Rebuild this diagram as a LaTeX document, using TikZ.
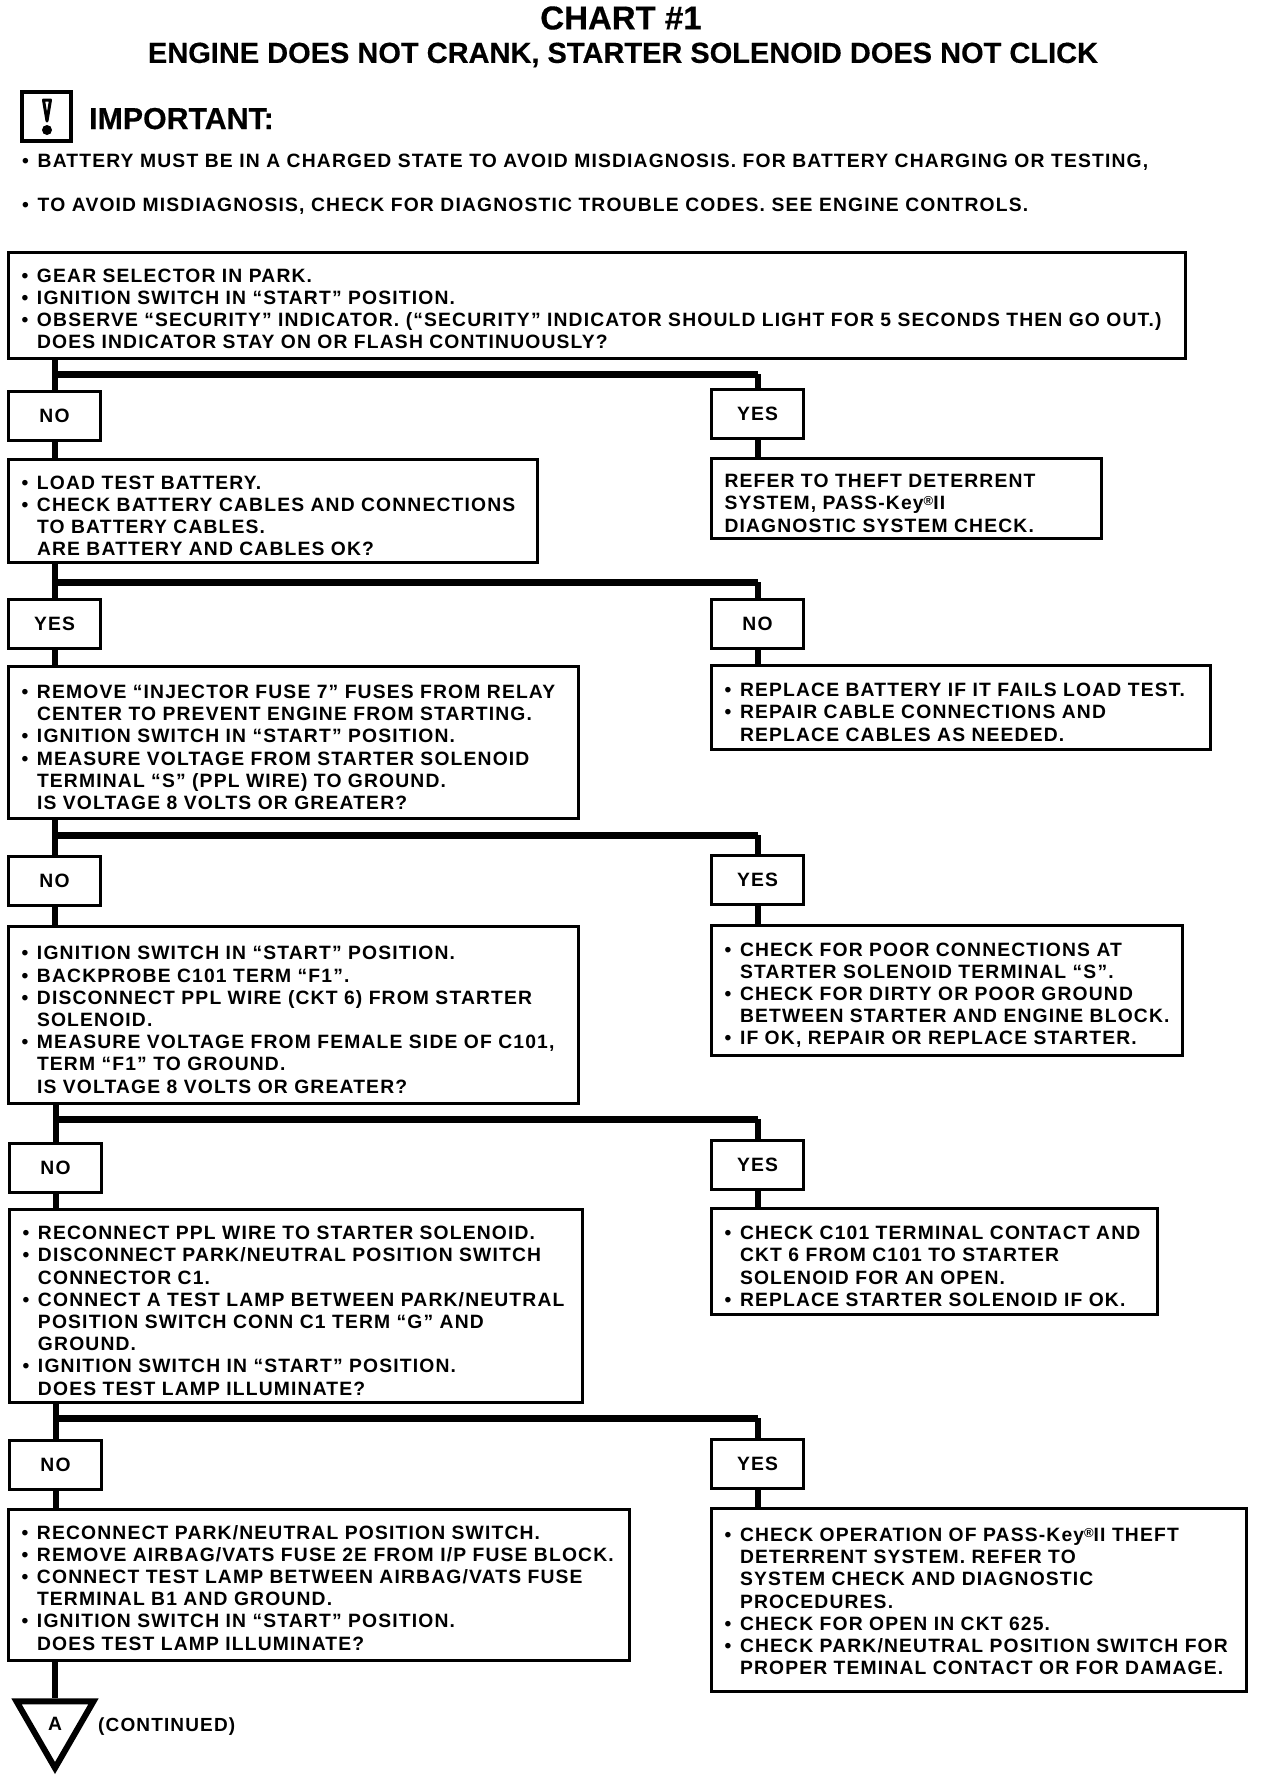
\documentclass[tikz,border=0pt]{standalone}
\usepackage{fontspec}
\setmainfont[LetterSpace=6]{Liberation Sans}
\newfontfamily\headfont[BoldFeatures={FakeBold=0.4}]{Liberation Sans}
\usetikzlibrary{positioning, shapes.geometric}
\newcommand{\bl}{\makebox[15.5pt][l]{•}}
\newcommand{\ind}{\hspace*{15.5pt}}
\newcommand{\regmark}{\raisebox{4pt}{\fontsize{13}{13}\selectfont\textregistered}}

\begin{document}
\begin{tikzpicture}[
    x=1pt, y=-1pt,
    every node/.style={inner sep=0pt, font=\fontsize{19.3}{22.2}\selectfont\bfseries},
    stepbox/.style={rectangle, draw, line width=3pt, anchor=north west, align=left,
                    inner xsep=13pt, inner ysep=0pt,
                    execute at begin node={\rule{0pt}{23pt}}},
    answer/.style={rectangle, draw, line width=3pt, anchor=north west, align=center,
                   minimum width=92pt, minimum height=49pt},
    stem/.style={line width=6pt},
    bar/.style={line width=7pt},
    headtxt/.style={font=\headfont\bfseries\fontsize{29}{30}\selectfont}
  ]
    \useasboundingbox (0,0) rectangle (1264,1778);

    % heading
    \node[headtxt, font=\headfont\bfseries\fontsize{33}{33}\selectfont] (chart) at (621,18) {CHART \#1};
    \node[headtxt] (subtitle) at (623,55) {ENGINE DOES NOT CRANK, STARTER SOLENOID DOES NOT CLICK};
    \node[draw, line width=4pt, minimum width=49pt, minimum height=49pt] (bang) at (46.5,116.5) {};
    \draw[line width=3pt, line join=round] (43.5,100) -- (50.5,100) -- (47,121) -- cycle;
    \fill (47,130) circle (5);
    \node[headtxt, font=\headfont\bfseries\fontsize{30.3}{31}\selectfont, anchor=base west] (important) at (89,129) {IMPORTANT:};
    \node[anchor=base west] (noteA) at (22,167)
      {\bl BATTERY MUST BE IN A CHARGED STATE TO AVOID MISDIAGNOSIS. FOR BATTERY CHARGING OR TESTING,};
    \node[anchor=base west] (noteB) at (22,211)
      {\bl TO AVOID MISDIAGNOSIS, CHECK FOR DIAGNOSTIC TROUBLE CODES. SEE ENGINE CONTROLS.};

    % left column
    \node[stepbox, execute at begin node={}, execute at end node={\rule[-3pt]{0pt}{3pt}}, text width=1151pt, minimum height=106pt] (start) at (7,251)
      {\bl GEAR SELECTOR IN PARK.\\
       \bl IGNITION SWITCH IN “START” POSITION.\\
       \mbox{\bl OBSERVE “SECURITY” INDICATOR. (“SECURITY” INDICATOR SHOULD LIGHT FOR 5 SECONDS THEN GO OUT.)}\\
       \ind DOES INDICATOR STAY ON OR FLASH CONTINUOUSLY?};
    \node[answer] (noA) at (7,390) {NO};
    \node[stepbox, text width=503pt, minimum height=103pt] (loadtest) at (7,458)
      {\bl LOAD TEST BATTERY.\\
       \bl CHECK BATTERY CABLES AND CONNECTIONS\\
       \ind TO BATTERY CABLES.\\
       \ind ARE BATTERY AND CABLES OK?};
    \node[answer] (yesB) at (7,598) {YES};
    \node[stepbox, text width=544pt, minimum height=152pt] (fuse) at (7,665)
      {\bl REMOVE “INJECTOR FUSE 7” FUSES FROM RELAY\\
       \ind CENTER TO PREVENT ENGINE FROM STARTING.\\
       \bl IGNITION SWITCH IN “START” POSITION.\\
       \bl MEASURE VOLTAGE FROM STARTER SOLENOID\\
       \ind TERMINAL “S” (PPL WIRE) TO GROUND.\\
       \ind IS VOLTAGE 8 VOLTS OR GREATER?};
    \node[answer] (noC) at (7,855) {NO};
    \node[stepbox, text width=544pt, minimum height=177pt] (backprobe) at (7,925)
      {\bl IGNITION SWITCH IN “START” POSITION.\\
       \bl BACKPROBE C101 TERM “F1”.\\
       \bl DISCONNECT PPL WIRE (CKT 6) FROM STARTER\\
       \ind SOLENOID.\\
       \mbox{\bl MEASURE VOLTAGE FROM FEMALE SIDE OF C101,}\\
       \ind TERM “F1” TO GROUND.\\
       \ind IS VOLTAGE 8 VOLTS OR GREATER?};
    \node[answer] (noD) at (8,1142) {NO};
    \node[stepbox, text width=547pt, minimum height=193pt] (reconnect) at (8,1208)
      {\bl RECONNECT PPL WIRE TO STARTER SOLENOID.\\
       \bl DISCONNECT PARK/NEUTRAL POSITION SWITCH\\
       \ind CONNECTOR C1.\\
       \mbox{\bl CONNECT A TEST LAMP BETWEEN PARK/NEUTRAL}\\
       \ind POSITION SWITCH CONN C1 TERM “G” AND\\
       \ind GROUND.\\
       \bl IGNITION SWITCH IN “START” POSITION.\\
       \ind DOES TEST LAMP ILLUMINATE?};
    \node[answer] (noE) at (8,1439) {NO};
    \node[stepbox, execute at begin node={}, execute at end node={\rule[-4pt]{0pt}{4pt}}, text width=595pt, minimum height=151pt] (airbag) at (7,1508)
      {\bl RECONNECT PARK/NEUTRAL POSITION SWITCH.\\
       \mbox{\bl REMOVE AIRBAG/VATS FUSE 2E FROM I/P FUSE BLOCK.}\\
       \bl CONNECT TEST LAMP BETWEEN AIRBAG/VATS FUSE\\
       \ind TERMINAL B1 AND GROUND.\\
       \bl IGNITION SWITCH IN “START” POSITION.\\
       \ind DOES TEST LAMP ILLUMINATE?};
    \node[draw, line width=6pt, regular polygon, regular polygon sides=3, shape border rotate=180,
      minimum size=89pt] (contA) at (55,1723.5) {\raisebox{-6pt}{A}};
    \node[anchor=west, font=\fontsize{19}{22.2}\selectfont\bfseries] (continued) at (98,1727) {(CONTINUED)};

    % right column
    \node[answer] (yesA) at (710,388) {YES};
    \node[stepbox, text width=364pt, minimum height=80pt] (theft) at (710,457)
      {REFER TO THEFT DETERRENT\\
       SYSTEM, PASS-Key\regmark II\\
       DIAGNOSTIC SYSTEM CHECK.};
    \node[answer] (noB) at (710,598) {NO};
    \node[stepbox, text width=473pt, minimum height=84pt] (battery) at (710,664)
      {\mbox{\bl REPLACE BATTERY IF IT FAILS LOAD TEST.}\\
       \bl REPAIR CABLE CONNECTIONS AND\\
       \ind REPLACE CABLES AS NEEDED.};
    \node[answer] (yesC) at (710,854) {YES};
    \node[stepbox, text width=445pt, minimum height=130pt] (starter) at (710,924)
      {\bl CHECK FOR POOR CONNECTIONS AT\\
       \ind STARTER SOLENOID TERMINAL “S”.\\
       \bl CHECK FOR DIRTY OR POOR GROUND\\
       \mbox{\ind BETWEEN STARTER AND ENGINE BLOCK.}\\
       \bl IF OK, REPAIR OR REPLACE STARTER.};
    \node[answer] (yesD) at (710,1139) {YES};
    \node[stepbox, text width=420pt, minimum height=106pt] (contact) at (710,1207)
      {\mbox{\bl CHECK C101 TERMINAL CONTACT AND}\\
       \ind CKT 6 FROM C101 TO STARTER\\
       \ind SOLENOID FOR AN OPEN.\\
       \bl REPLACE STARTER SOLENOID IF OK.};
    \node[answer] (yesE) at (710,1438) {YES};
    \node[stepbox, execute at begin node={}, execute at end node={\rule[-7pt]{0pt}{7pt}}, text width=509pt, minimum height=183pt] (passkey) at (710,1507)
      {\bl CHECK OPERATION OF PASS-Key\regmark II THEFT\\
       \ind DETERRENT SYSTEM. REFER TO\\
       \ind SYSTEM CHECK AND DIAGNOSTIC\\
       \ind PROCEDURES.\\
       \bl CHECK FOR OPEN IN CKT 625.\\
       \mbox{\bl CHECK PARK/NEUTRAL POSITION SWITCH FOR}\\
       \mbox{\ind PROPER TEMINAL CONTACT OR FOR DAMAGE.}};

    % forks
    \coordinate (forkA) at (54,374);
    \coordinate (forkB) at (54,582);
    \coordinate (forkC) at (54,835);
    \coordinate (forkD) at (54,1119);
    \coordinate (forkE) at (54,1418);

    \draw[stem] (start.south -| noA.north) -- (noA.north);
    \draw[bar] (forkA) -- (forkA -| yesA.north);
    \draw[stem] (forkA -| yesA.north) -- (yesA.north);
    \draw[stem] (noA) -- (noA |- loadtest.north);
    \draw[stem] (yesA) -- (yesA |- theft.north);

    \draw[stem] (loadtest.south -| yesB.north) -- (yesB.north);
    \draw[bar] (forkB) -- (forkB -| noB.north);
    \draw[stem] (forkB -| noB.north) -- (noB.north);
    \draw[stem] (yesB) -- (yesB |- fuse.north);
    \draw[stem] (noB) -- (noB |- battery.north);

    \draw[stem] (fuse.south -| noC.north) -- (noC.north);
    \draw[bar] (forkC) -- (forkC -| yesC.north);
    \draw[stem] (forkC -| yesC.north) -- (yesC.north);
    \draw[stem] (noC) -- (noC |- backprobe.north);
    \draw[stem] (yesC) -- (yesC |- starter.north);

    \draw[stem] (backprobe.south -| noD.north) -- (noD.north);
    \draw[bar] (forkD) -- (forkD -| yesD.north);
    \draw[stem] (forkD -| yesD.north) -- (yesD.north);
    \draw[stem] (noD) -- (noD |- reconnect.north);
    \draw[stem] (yesD) -- (yesD |- contact.north);

    \draw[stem] (reconnect.south -| noE.north) -- (noE.north);
    \draw[bar] (forkE) -- (forkE -| yesE.north);
    \draw[stem] (forkE -| yesE.north) -- (yesE.north);
    \draw[stem] (noE) -- (noE |- airbag.north);
    \draw[stem] (yesE) -- (yesE |- passkey.north);

    \draw[stem] (airbag.south -| contA.north) -- (contA.north);
  \end{tikzpicture}
\end{document}
